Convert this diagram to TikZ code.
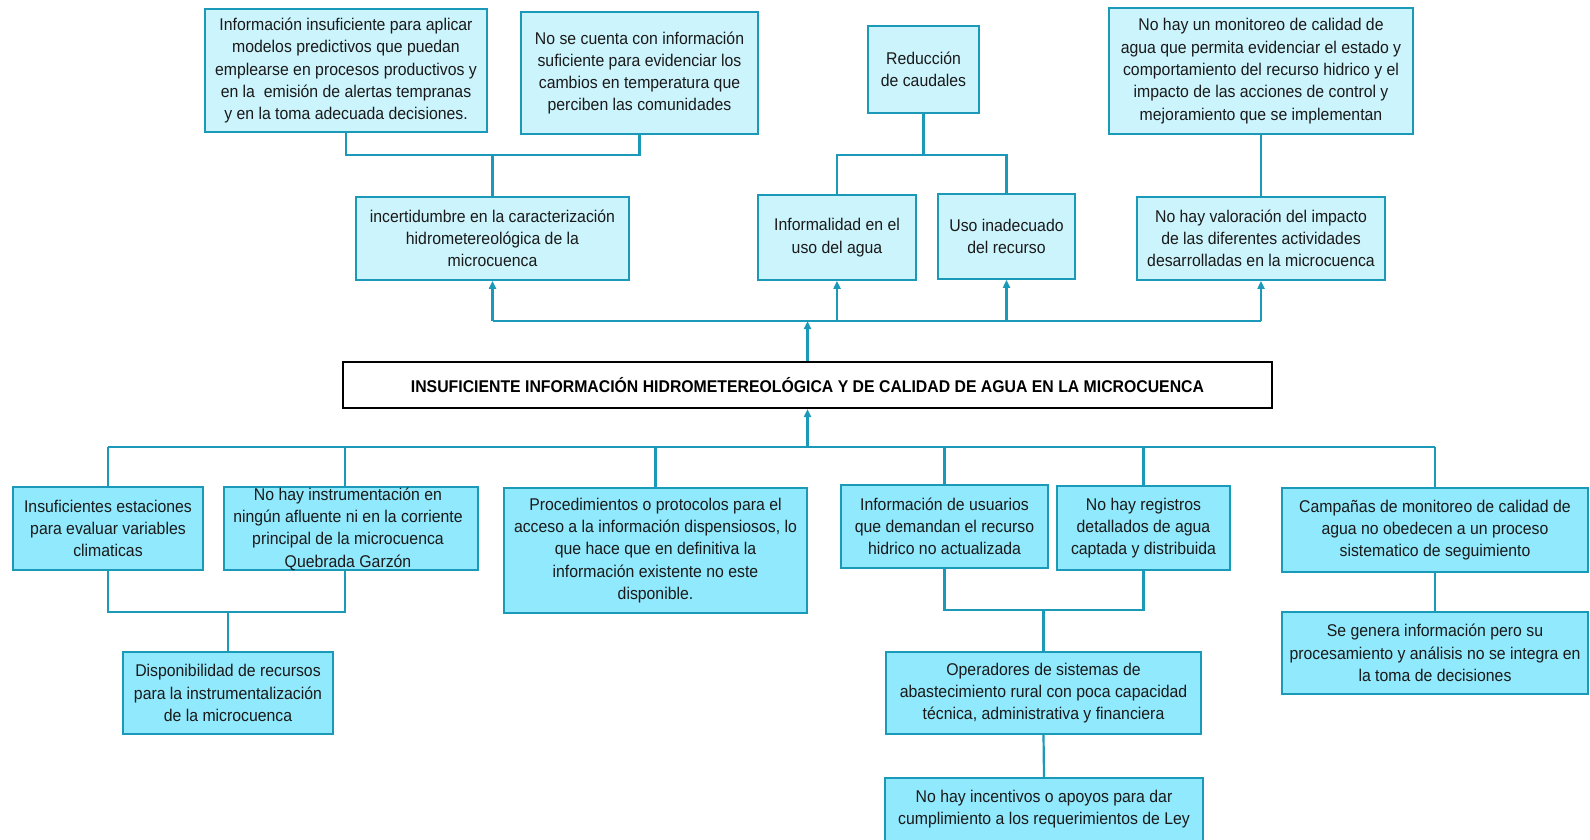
\documentclass[tikz,border=0pt]{standalone}
\usepackage{fontspec}
\setmainfont{Liberation Sans}[FakeStretch=0.93]
\usetikzlibrary{arrows.meta}
\definecolor{ln}{HTML}{1A9AB8}
\definecolor{lt}{HTML}{CCF4FC}
\definecolor{dk}{HTML}{90E9FC}
\definecolor{tx}{HTML}{1A1A1A}
\begin{document}
\begin{tikzpicture}[x=1pt,y=-1pt,
 box/.style={draw=ln, line width=1.8pt, inner sep=0pt, align=center, text=tx, font=\fontsize{17}{22.3}\selectfont},
 wh/.style 2 args={minimum width=#1pt, minimum height=#2pt},
 lbox/.style={box, fill=lt},
 dbox/.style={box, fill=dk},
 txt/.style={inner sep=0pt, align=center, text=tx, font=\fontsize{17}{22.3}\selectfont},
 mainbox/.style={draw=black, line width=2pt, fill=white, inner sep=0pt, text=black, font=\bfseries\fontsize{17}{22}\selectfont},
 con/.style={draw=ln, line width=2.2pt},
 arr/.style={con, -{Triangle[length=8pt,width=7pt]}}]
\useasboundingbox (0,0) rectangle (1590,839);
\clip (0,0) rectangle (1590,839);
% top boxes
\node[lbox, wh={282}{123}] (A1) at (346,70.5) {Información insuficiente para aplicar\\ modelos predictivos que puedan\\ emplearse en procesos productivos y\\ en la \ emisión de alertas tempranas\\ y en la toma adecuada decisiones.};
\node[lbox, wh={237}{122}] (A2) at (639.5,73) {No se cuenta con información\\ suficiente para evidenciar los\\ cambios en temperatura que\\ perciben las comunidades};
\node[lbox, wh={273}{83}] (A3) at (492.5,238.5) {incertidumbre en la caracterización\\ hidrometereológica de la\\ microcuenca};
\node[lbox, wh={111}{87}] (R) at (923.5,69.5) {Reducción\\ de caudales};
\node[lbox, wh={158}{85}] (I) at (837,237.5) {Informalidad en el\\ uso del agua};
\node[lbox, wh={137}{85}] (U) at (1006.5,236.5) {Uso inadecuado\\ del recurso};
\node[lbox, wh={304}{126}] (M) at (1261,71) {No hay un monitoreo de calidad de\\ agua que permita evidenciar el estado y\\ comportamiento del recurso hidrico y el\\ impacto de las acciones de control y\\ mejoramiento que se implementan};
\node[lbox, wh={248}{83}] (V) at (1261,238.5) {No hay valoración del impacto\\ de las diferentes actividades\\ desarrolladas en la microcuenca};
% main
\node[mainbox, wh={929}{46}] (Main) at (807.5,385) {INSUFICIENTE INFORMACIÓN HIDROMETEREOLÓGICA Y DE CALIDAD DE AGUA EN LA MICROCUENCA};
% bottom boxes
\node[dbox, wh={190}{83}] (B1) at (108,528.5) {Insuficientes estaciones\\ para evaluar variables\\ climaticas};
\node[dbox, wh={254}{83}] (B2) at (351,528.5) {};
\node[txt] (B2t) at (348,529) {No hay instrumentación en\\ ningún afluente ni en la corriente\\ principal de la microcuenca\\ Quebrada Garzón};
\node[dbox, wh={210}{82}] (B3) at (228,693) {Disponibilidad de recursos\\ para la instrumentalización\\ de la microcuenca};
\node[dbox, wh={303}{125}] (B4) at (655.5,550.5) {Procedimientos o protocolos para el\\ acceso a la información dispensiosos, lo\\ que hace que en definitiva la\\ información existente no este\\ disponible.};
\node[dbox, wh={207}{83}] (B5) at (944.5,526.5) {Información de usuarios\\ que demandan el recurso\\ hidrico no actualizada};
\node[dbox, wh={173}{84}] (B6) at (1143.5,528) {No hay registros\\ detallados de agua\\ captada y distribuida};
\node[dbox, wh={315}{82}] (B7) at (1043.5,693) {Operadores de sistemas de\\ abastecimiento rural con poca capacidad\\ técnica, administrativa y financiera};
\node[dbox, wh={318}{80}] (B8) at (1044,818) {};
\node[txt] (B8t) at (1044,809) {No hay incentivos o apoyos para dar\\ cumplimiento a los requerimientos de Ley};
\node[dbox, wh={306}{84}] (B9) at (1435,530) {Campañas de monitoreo de calidad de\\ agua no obedecen a un proceso\\ sistematico de seguimiento};
\node[dbox, wh={306}{82}] (B10) at (1435,653) {Se genera información pero su\\ procesamiento y análisis no se integra en\\ la toma de decisiones};
% top connectors
\coordinate (j1) at (492.5,155);
\draw[con] (A1.south) |- (j1) -| (A2.south);
\draw[con] (j1) -- (A3.north);
\coordinate (j2) at (923.5,155);
\draw[con] (R.south) -- (j2);
\draw[con] (I.north) |- (j2) -| (U.north);
\draw[con] (M.south) -- (V.north);
\coordinate (tb) at (807.5,321);
\draw[arr] (Main.north) -- (tb);
\draw[con] (A3.south |- tb) -- (V.south |- tb);
\draw[arr] (A3.south |- tb) -- (A3.south);
\draw[arr] (I.south |- tb) -- (I.south);
\draw[arr] (U.south |- tb) -- (U.south);
\draw[arr] (V.south |- tb) -- (V.south);
% bottom connectors
\coordinate (bb) at (807.5,447);
\draw[arr] (bb) -- (Main.south);
\coordinate (b2t) at ([xshift=-6pt]B2.north);
\coordinate (b2b) at ([xshift=-6pt]B2.south);
\draw[con] (B1.north |- bb) -- (B9.north |- bb);
\draw[con] (B1.north |- bb) -- (B1.north);
\draw[con] (b2t |- bb) -- (b2t);
\draw[con] (B4.north |- bb) -- (B4.north);
\draw[con] (B5.north |- bb) -- (B5.north);
\draw[con] (B6.north |- bb) -- (B6.north);
\draw[con] (B9.north |- bb) -- (B9.north);
\coordinate (j3) at (228,612);
\draw[con] (B1.south) |- (j3) -| (b2b);
\draw[con] (j3) -- (B3.north);
\coordinate (j4) at (1043.5,610);
\draw[con] (B5.south) |- (j4) -| (B6.south);
\draw[con] (j4) -- (B7.north);
\draw[con] (B7.south) -- (B8.north);
\draw[con] (B9.south) -- (B10.north);
\end{tikzpicture}
\end{document}
